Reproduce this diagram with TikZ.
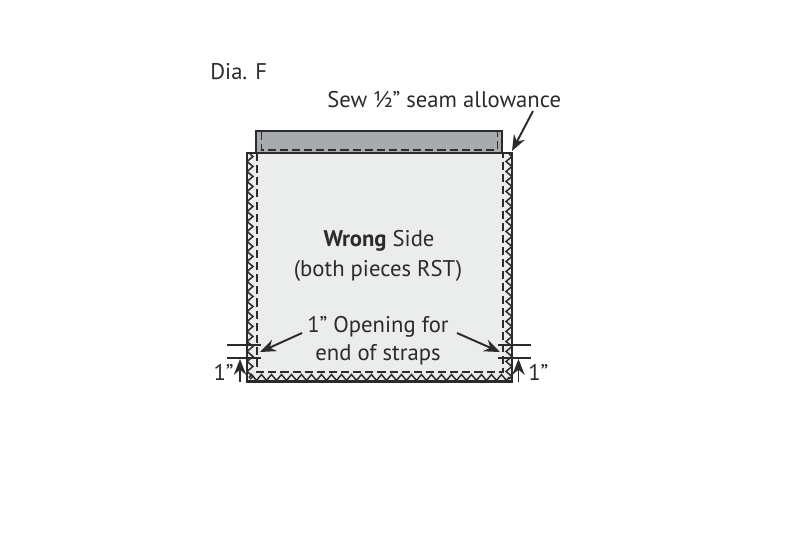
\documentclass[tikz,border=0pt]{standalone}
\usepackage{fontspec}
\setmainfont{PT Sans}
\usetikzlibrary{arrows.meta,decorations.pathmorphing}
\definecolor{ink}{rgb}{0.17,0.17,0.18}
\definecolor{band}{rgb}{0.66,0.67,0.68}
\definecolor{wrongside}{rgb}{0.92,0.925,0.925}
\tikzset{
    stitch/.style={ink, line width=1.1pt, dash pattern=on 4.6pt off 2.3pt},
    zigzagseam/.style={ink, line width=0.85pt, decorate, decoration={zigzag, amplitude=1.7pt, segment length=0.2cm}},
    tick/.style={ink, line width=1.1pt},
    pointer/.style={ink, line width=1.1pt, -{Stealth[length=9pt,width=7pt]}},
    label/.style={text=ink, font=\fontsize{12.9}{18}\selectfont, inner sep=0pt, align=center}
}

\begin{document}
\begin{tikzpicture}[x=0.02cm, y=-0.02cm]
                \useasboundingbox (0,0) rectangle (800,542);
                % top band
                \draw[ink, line width=1.3pt, fill=band] (256,131) rectangle (502,153);
                \draw[stitch] (261.5,132) -- (261.5,150) -- (497.5,150) -- (497.5,132);
                % wrong side
                \draw[ink, line width=1.3pt, fill=wrongside] (247,153) rectangle (512,381.5);
                \draw[stitch] (257,153) -- (257,372) -- (503,372) -- (503,153);
                % zigzag edges
                \draw[zigzagseam] (250,154) -- (250,379);
                \draw[zigzagseam] (509,154) -- (509,379);
                \draw[zigzagseam] (249,377.5) -- (510,377.5);
                % texts
                \node[label, anchor=west] (dia) at (210,72) {Dia. F};
                \node[label, anchor=west] (sew) at (327,100) {Sew ½" seam allowance};
                \node[label] (wrong) at (379,241) {\textbf{Wrong} Side};
                \node[label] (both) at (378,271) {(both pieces RST)};
                \node[label] (opening) at (378,327) {1" Opening for};
                \node[label] (straps) at (378,355) {end of straps};
                \node[label, anchor=east] (inchl) at (234,372) {1"};
                \node[label, anchor=west] (inchr) at (528,372) {1"};
                % ticks
                \coordinate (tla) at (227,345);
                \coordinate (tlb) at (260.5,345);
                \coordinate (tlc) at (227,358);
                \coordinate (tld) at (260.5,358);
                \coordinate (tra) at (498,345);
                \coordinate (trb) at (531,345);
                \coordinate (trc) at (498,358);
                \coordinate (trd) at (531,358);
                \draw[tick] (tla) -- (tlb);
                \draw[tick] (tlc) -- (tld);
                \draw[tick] (tra) -- (trb);
                \draw[tick] (trc) -- (trd);
                % arrows
                \coordinate (upl) at (240,382);
                \coordinate (upltip) at (240,359);
                \coordinate (upr) at (518.5,382);
                \coordinate (uprtip) at (518.5,359);
                \coordinate (openl) at (302,333);
                \coordinate (opentipl) at (260,352);
                \coordinate (openr) at (457,333);
                \coordinate (opentipr) at (500,352);
                \coordinate (sewfrom) at (533,111);
                \coordinate (sewtip) at (512,151);
                \draw[pointer] (upl) -- (upltip);
                \draw[pointer] (upr) -- (uprtip);
                \draw[pointer] (openl) -- (opentipl);
                \draw[pointer] (openr) -- (opentipr);
                \draw[pointer] (sewfrom) -- (sewtip);
            \end{tikzpicture}
\end{document}
